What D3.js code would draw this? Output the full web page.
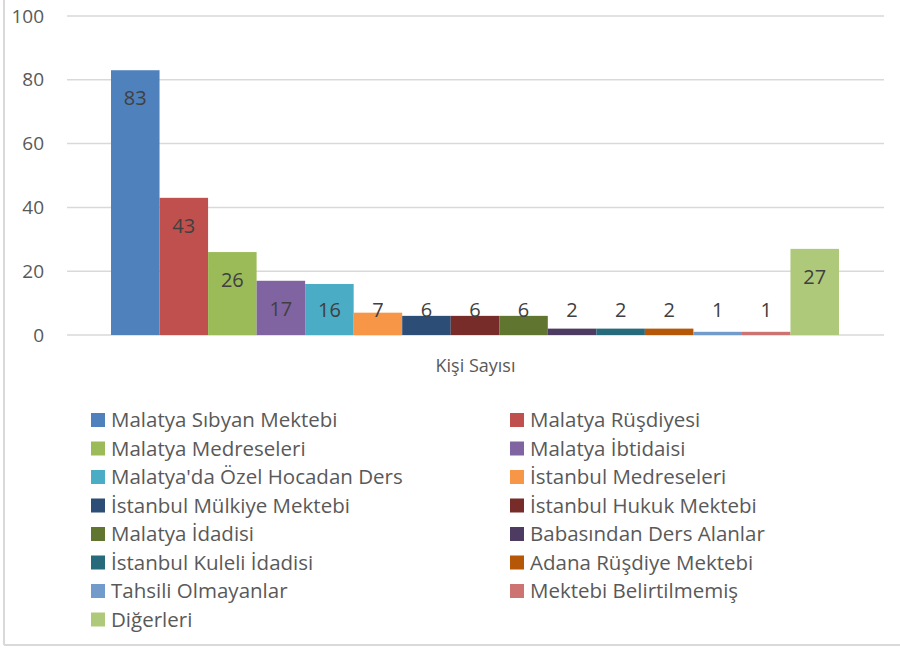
<!DOCTYPE html>
<html lang="tr">
<head>
<meta charset="utf-8">
<script src="https://d3js.org/d3.v7.min.js"></script>
<style type="text/css">
body { margin: 0; background: #fff; }
svg text { font-family: "Open Sans", "Noto Sans", sans-serif; fill: #595959; }
.grid line { stroke: #d9d9d9; stroke-width: 1.5; }
.axis text { font-size: 19px; }
.label { font-size: 20px; fill: #404040; text-anchor: middle; }
.legend text { font-size: 20.5px; }
</style>
</head>
<body>
<div id="chart"></div>
<script type="text/javascript">

// chart data
var categories = ["Malatya Sıbyan Mektebi", "Malatya Rüşdiyesi", "Malatya Medreseleri",
  "Malatya İbtidaisi", "Malatya'da Özel Hocadan Ders", "İstanbul Medreseleri",
  "İstanbul Mülkiye Mektebi", "İstanbul Hukuk Mektebi", "Malatya İdadisi",
  "Babasından Ders Alanlar", "İstanbul Kuleli İdadisi", "Adana Rüşdiye Mektebi",
  "Tahsili Olmayanlar", "Mektebi Belirtilmemiş", "Diğerleri"];
var values = [83, 43, 26, 17, 16, 7, 6, 6, 6, 2, 2, 2, 1, 1, 27];
var colors = ["#4f81bd", "#c0504d", "#9bbb59", "#8064a2", "#4bacc6", "#f79646",
  "#2c4d75", "#772c2a", "#5f7530", "#4d3b62", "#276a7c", "#b65708",
  "#729aca", "#cd7371", "#afc97a"];
var yTicks = [0, 20, 40, 60, 80, 100];
var groupLabel = "Kişi Sayısı";

var width = 900, height = 649;

var svg = d3.select("#chart").append("svg")
  .attr("width", width)
  .attr("height", height);

// outer frame (left and bottom edges show)
svg.append("line").attr("x1", 4).attr("x2", 4).attr("y1", 0).attr("y2", 645)
  .style("stroke", "#d9d9d9").style("stroke-width", 2);
svg.append("line").attr("x1", 4).attr("x2", 900).attr("y1", 645).attr("y2", 645)
  .style("stroke", "#d9d9d9").style("stroke-width", 2);

var plotLeft = 67, plotRight = 884;

var y = d3.scaleLinear().domain([0, 100]).range([335, 16]);

var x = d3.scaleBand()
  .domain(categories)
  .range([111, 839]);

// gridlines
svg.append("g").attr("class", "grid")
  .selectAll("line")
  .data(yTicks)
  .enter().append("line")
  .attr("x1", plotLeft).attr("x2", plotRight)
  .attr("y1", function(d) { return y(d); })
  .attr("y2", function(d) { return y(d); });

// y axis labels
var yAxis = d3.axisLeft(y).tickValues(yTicks).tickSize(0).tickPadding(0);
svg.append("g").attr("class", "axis")
  .attr("transform", "translate(44,0)")
  .call(yAxis)
  .call(function(g) { g.select(".domain").remove(); })
  .selectAll("text").style("fill", "#595959");

// bars
svg.append("g").selectAll("rect")
  .data(values)
  .enter().append("rect")
  .attr("x", function(d, i) { return x(categories[i]); })
  .attr("width", x.bandwidth())
  .attr("y", function(d) { return y(d); })
  .attr("height", function(d) { return y(0) - y(d); })
  .style("fill", function(d, i) { return colors[i]; });

// value labels
svg.append("g").selectAll("text")
  .data(values)
  .enter().append("text")
  .attr("class", "label")
  .attr("x", function(d, i) { return x(categories[i]) + x.bandwidth() / 2; })
  .attr("y", function(d) { return Math.min(y(d) + 28, 310); })
  .attr("dy", "0.35em")
  .text(function(d) { return d; });

// category label
svg.append("text")
  .attr("x", (plotLeft + plotRight) / 2)
  .attr("y", 366)
  .attr("dy", "0.35em")
  .attr("text-anchor", "middle")
  .style("font-size", "18px")
  .text(groupLabel);

// legend, two columns
var legend = svg.append("g").attr("class", "legend");
var item = legend.selectAll("g")
  .data(categories)
  .enter().append("g")
  .attr("transform", function(d, i) {
    var col = i % 2, row = Math.floor(i / 2);
    return "translate(" + (col ? 510 : 91) + "," + (420 + row * 28.5) + ")";
  });
item.append("rect")
  .attr("x", 0).attr("y", -7)
  .attr("width", 14).attr("height", 14)
  .style("fill", function(d, i) { return colors[i]; });
item.append("text")
  .attr("x", 20)
  .attr("dy", "0.35em")
  .text(function(d) { return d; });

</script>
</body>
</html>
